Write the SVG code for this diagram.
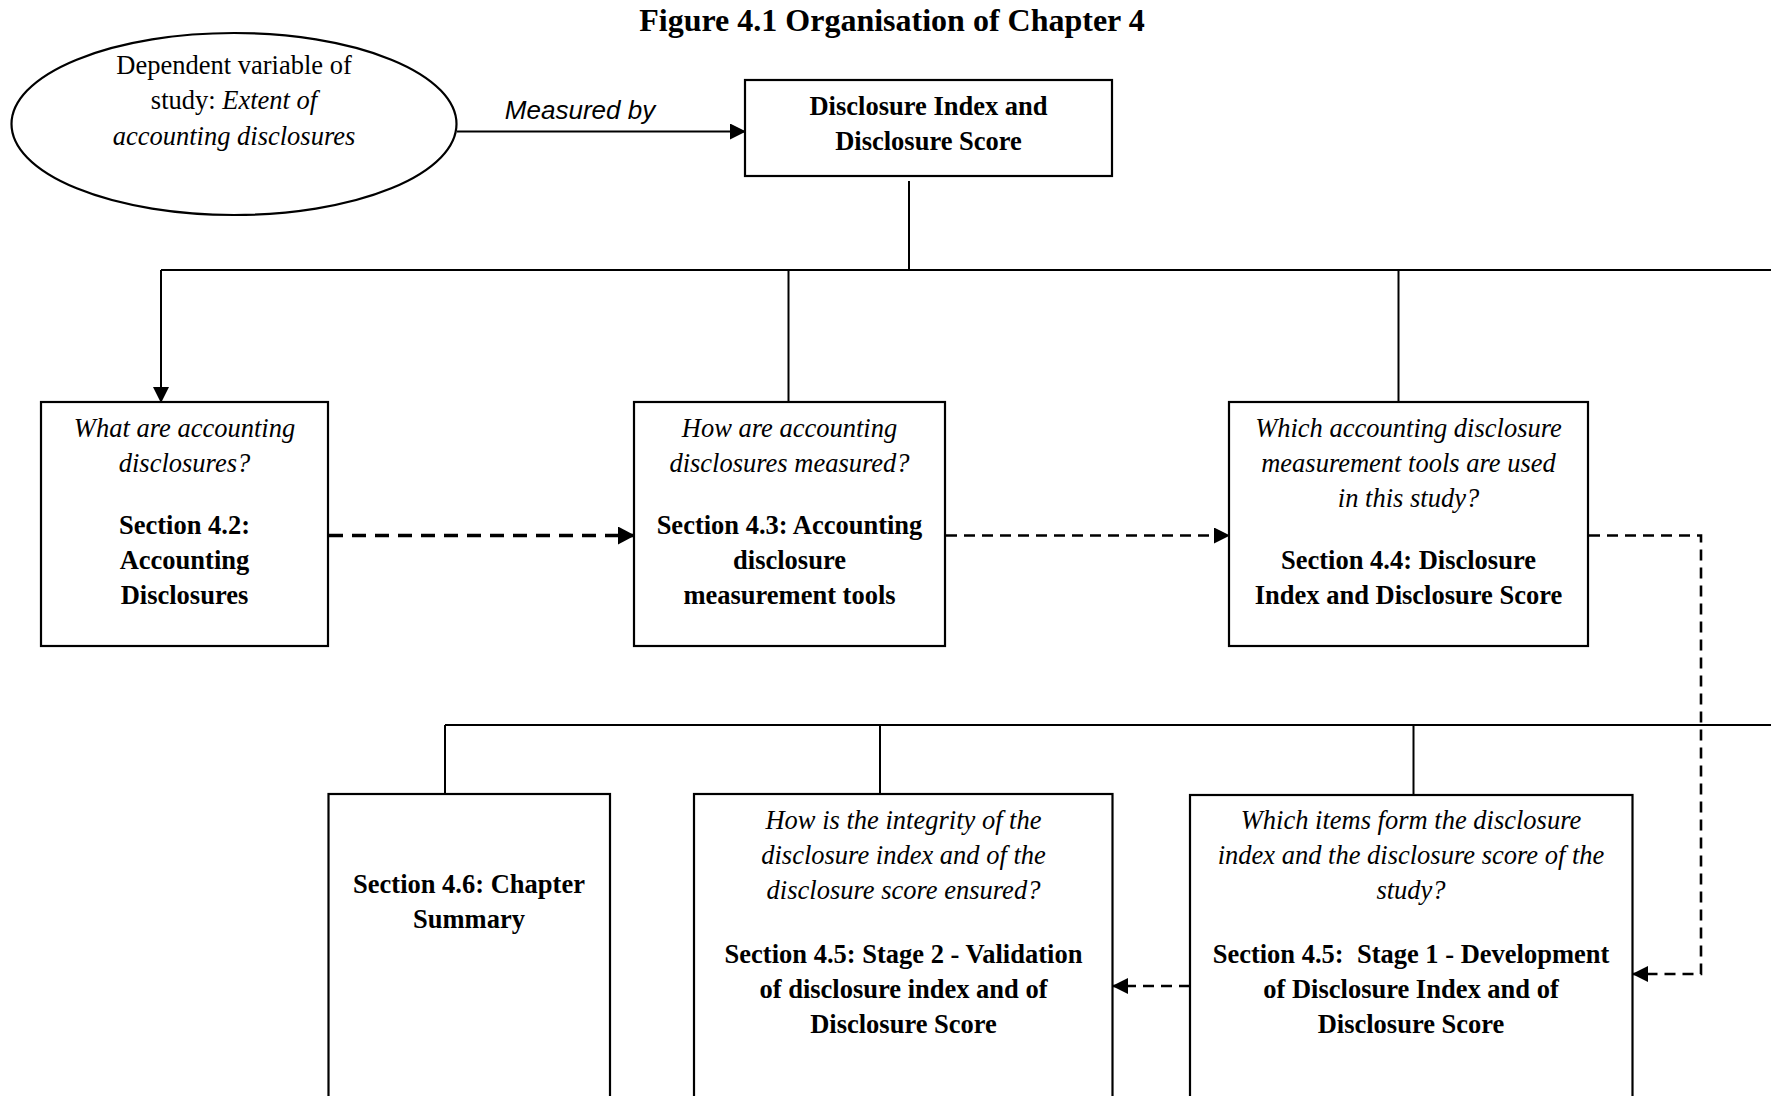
<svg xmlns="http://www.w3.org/2000/svg" width="1771" height="1096" viewBox="0 0 1771 1096">
  <style>
    .t { font-family: "Liberation Serif", "Times New Roman", serif; font-size: 26.5px; fill: #000; text-anchor: middle; }
    .i { font-style: italic; }
    .b { font-weight: bold; }
    .box { fill: #fff; stroke: #000; stroke-width: 2.2; }
    .ln { fill: none; stroke: #000; stroke-width: 2; }
    .dash-thick { fill: none; stroke: #000; stroke-width: 3.5; stroke-dasharray: 14 9; }
    .dash { fill: none; stroke: #000; stroke-width: 2.6; stroke-dasharray: 11 7; }
  </style>
  <defs>
    <marker id="tri" markerWidth="16" markerHeight="16" refX="15" refY="8" orient="auto" markerUnits="userSpaceOnUse">
      <path d="M0,0 L16,8 L0,16 Z" fill="#000"/>
    </marker>
    <marker id="triBig" markerWidth="17" markerHeight="18" refX="16" refY="9" orient="auto" markerUnits="userSpaceOnUse">
      <path d="M0,0 L17,9 L0,18 Z" fill="#000"/>
    </marker>
  </defs>
  <rect width="1771" height="1096" fill="#fff"/>

  <text class="t b" x="892" y="31" style="font-size:32px">Figure 4.1 Organisation of Chapter 4</text>

  <!-- connectors -->
  <g id="connectors">
    <path class="ln" d="M457,131.5 H745" marker-end="url(#tri)"/>
    <text class="t i" x="580" y="119" style="font-family:'Liberation Sans', Arial, sans-serif; font-size:26px">Measured by</text>
    <path class="ln" d="M909,181 V270"/>
    <path class="ln" d="M161,270 H1771"/>
    <path class="ln" d="M161,270 V402" marker-end="url(#tri)"/>
    <path class="ln" d="M788.5,270 V402"/>
    <path class="ln" d="M1398.5,270 V402"/>
    <path class="dash-thick" d="M329,535.5 H634" marker-end="url(#triBig)"/>
    <path class="dash" d="M946,535.5 H1229" marker-end="url(#tri)"/>
    <path class="dash" d="M1589,535.5 H1701 V974 H1633" marker-end="url(#tri)"/>
    <path class="ln" d="M445,725 H1771"/>
    <path class="ln" d="M445,725 V794"/>
    <path class="ln" d="M880,725 V794"/>
    <path class="ln" d="M1413.5,725 V795"/>
    <path class="dash" d="M1190,986 H1113" marker-end="url(#tri)"/>
  </g>

  <g id="dependent-variable">
    <ellipse cx="234" cy="124" rx="222.5" ry="91" fill="#fff" stroke="#000" stroke-width="2.2"/>
    <text class="t" x="234" y="73.5">Dependent variable of</text>
    <text class="t" x="234" y="109">study: <tspan class="i">Extent of</tspan></text>
    <text class="t i" x="234" y="144.5">accounting disclosures</text>
  </g>

  <g id="disclosure-index">
    <rect class="box" x="745" y="80" width="367" height="96"/>
    <text class="t b" x="928.5" y="115">Disclosure Index and</text>
    <text class="t b" x="928.5" y="150">Disclosure Score</text>
  </g>

  <g id="section-4-2">
    <rect class="box" x="41" y="402" width="287" height="244"/>
    <text class="t i" x="184.5" y="437">What are accounting</text>
    <text class="t i" x="184.5" y="472">disclosures?</text>
    <text class="t b" x="184.5" y="534">Section 4.2:</text>
    <text class="t b" x="184.5" y="569">Accounting</text>
    <text class="t b" x="184.5" y="604">Disclosures</text>
  </g>

  <g id="section-4-3">
    <rect class="box" x="634" y="402" width="311" height="244"/>
    <text class="t i" x="789.5" y="437">How are accounting</text>
    <text class="t i" x="789.5" y="472">disclosures measured?</text>
    <text class="t b" x="789.5" y="534">Section 4.3: Accounting</text>
    <text class="t b" x="789.5" y="569">disclosure</text>
    <text class="t b" x="789.5" y="604">measurement tools</text>
  </g>

  <g id="section-4-4">
    <rect class="box" x="1229" y="402" width="359" height="244"/>
    <text class="t i" x="1408.5" y="437">Which accounting disclosure</text>
    <text class="t i" x="1408.5" y="472">measurement tools are used</text>
    <text class="t i" x="1408.5" y="507">in this study?</text>
    <text class="t b" x="1408.5" y="569">Section 4.4: Disclosure</text>
    <text class="t b" x="1408.5" y="604">Index and Disclosure Score</text>
  </g>

  <g id="section-4-6">
    <rect class="box" x="328.5" y="794" width="281.5" height="320"/>
    <text class="t b" x="469" y="893">Section 4.6: Chapter</text>
    <text class="t b" x="469" y="928">Summary</text>
  </g>

  <g id="section-4-5-stage-2">
    <rect class="box" x="694" y="794" width="418.5" height="320"/>
    <text class="t i" x="903.5" y="829">How is the integrity of the</text>
    <text class="t i" x="903.5" y="864">disclosure index and of the</text>
    <text class="t i" x="903.5" y="899">disclosure score ensured?</text>
    <text class="t b" x="903.5" y="963">Section 4.5: Stage 2 - Validation</text>
    <text class="t b" x="903.5" y="998">of disclosure index and of</text>
    <text class="t b" x="903.5" y="1033">Disclosure Score</text>
  </g>

  <g id="section-4-5-stage-1">
    <rect class="box" x="1190" y="795" width="442.5" height="320"/>
    <text class="t i" x="1411" y="829">Which items form the disclosure</text>
    <text class="t i" x="1411" y="864">index and the disclosure score of the</text>
    <text class="t i" x="1411" y="899">study?</text>
    <text class="t b" x="1411" y="963">Section 4.5:&#160; Stage 1 - Development</text>
    <text class="t b" x="1411" y="998">of Disclosure Index and of</text>
    <text class="t b" x="1411" y="1033">Disclosure Score</text>
  </g>
</svg>
